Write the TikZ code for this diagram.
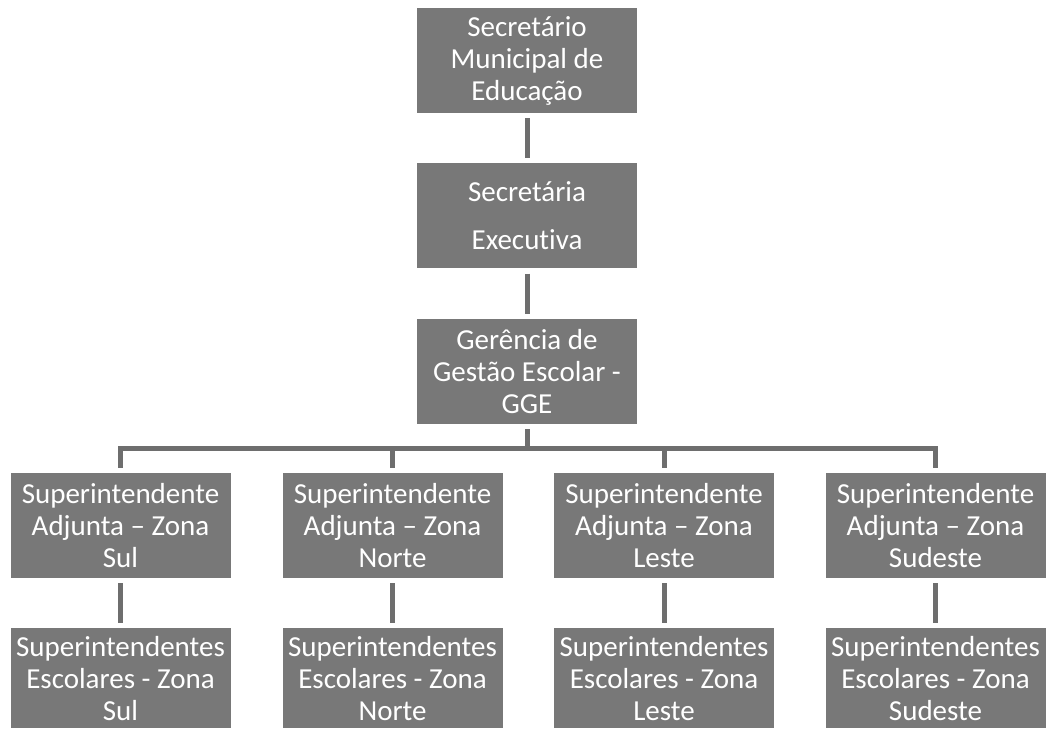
\documentclass[tikz,border=0pt]{standalone}
\usepackage{fontspec}
\setmainfont{Carlito}[Ligatures=NoCommon]
\usetikzlibrary{positioning}

\definecolor{boxgray}{HTML}{787878}
\definecolor{linegray}{HTML}{6E6E6E}

\begin{document}
\begin{tikzpicture}[
  x=1pt, y=-1pt,
  node distance=50pt,
  box/.style={fill=boxgray, text=white, minimum width=220pt, minimum height=105pt,
    inner sep=0pt, align=center, font=\fontsize{29}{32}\selectfont},
  link/.style={draw=linegray, line width=5pt, shorten <=5pt, shorten >=5pt}
]
\useasboundingbox (0,0) rectangle (1046,728);
\clip (0,0) rectangle (1046,728);

% top of the chain
\node[box] (sme) at (527,60.5) {Secretário\\Municipal de\\Educação};
\node[box, below=of sme] (sec) {Secretária\\[16pt]Executiva};
\node[box, below=of sec] (gge) {Gerência de\\Gestão Escolar -\\GGE};

% zones
\foreach \z/\zx [count=\i] in {Sul/120.5, Norte/392.5, Leste/664, Sudeste/935.5} {
  \node[box] (adj\i) at (\zx,525.5) {Superintendente\\Adjunta -- Zona\\\z};
  \node[box, minimum height=100pt, below=of adj\i] (esc\i) {Superintendentes\\Escolares - Zona\\\z};
  \draw[link] (adj\i) -- (esc\i);
  \draw[link, shorten <=0pt] (gge.south) ++(0,24) -| (adj\i);
}

% chain links
\draw[link] (sme) -- (sec);
\draw[link] (sec) -- (gge);
\draw[link, shorten >=0pt] (gge) -- ++(0,79);
\end{tikzpicture}
\end{document}
